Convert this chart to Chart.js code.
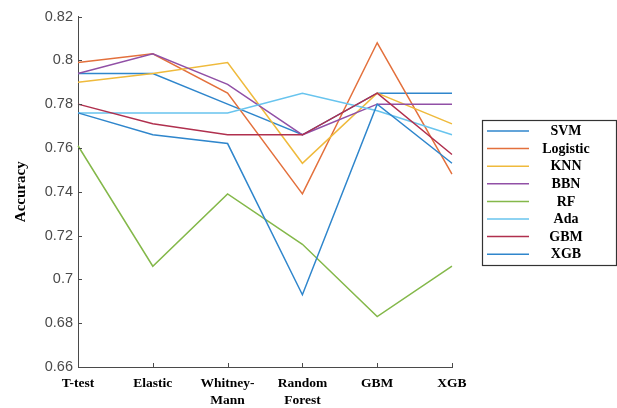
<!DOCTYPE html>
<html>
<head>
<meta charset="utf-8">
<script src="https://cdn.jsdelivr.net/npm/chart.js@4.4.1/dist/chart.umd.min.js"></script>
<style>
  html, body { margin: 0; padding: 0; background: #ffffff; }
  #wrap { width: 617px; height: 408px; position: relative; }
</style>
</head>
<body>
<div id="wrap"><canvas id="c" width="617" height="408"></canvas></div>
<script>
// ---- data ----
const categories = ['T-test', 'Elastic', ['Whitney-', 'Mann'], ['Random', 'Forest'], 'GBM', 'XGB'];
const seriesNames = ['SVM', 'Logistic', 'KNN', 'BBN', 'RF', 'Ada', 'GBM', 'XGB'];
const svm      = [0.794, 0.794, 0.780, 0.766, 0.785, 0.785];
const logistic = [0.799, 0.803, 0.785, 0.739, 0.808, 0.748];
const knn      = [0.790, 0.794, 0.799, 0.753, 0.785, 0.771];
const bbn      = [0.794, 0.803, 0.789, 0.766, 0.780, 0.780];
const rf       = [0.761, 0.706, 0.739, 0.716, 0.683, 0.706];
const ada      = [0.776, 0.776, 0.776, 0.785, 0.777, 0.766];
const gbm      = [0.780, 0.771, 0.766, 0.766, 0.785, 0.757];
const xgb      = [0.776, 0.766, 0.762, 0.693, 0.780, 0.753];
const yTicks   = [0.66, 0.68, 0.70, 0.72, 0.74, 0.76, 0.78, 0.80, 0.82];
const yTitle   = 'Accuracy';

const seriesValues = [svm, logistic, knn, bbn, rf, ada, gbm, xgb];
const colors = ['#2f86cc', '#e3703c', '#efba3c', '#9150a6', '#84b84a', '#68c4ee', '#b0304e', '#2f86cc'];
const AXIS = '#4a4a4a';

const datasets = seriesNames.map((name, i) => ({
  label: name,
  data: seriesValues[i],
  borderColor: colors[i],
  backgroundColor: colors[i],
  borderWidth: 1.5,
  pointRadius: 0,
  pointHoverRadius: 0,
  tension: 0,
  fill: false,
  order: seriesNames.length - i
}));

const inwardTicks = {
  id: 'inwardTicks',
  afterDatasetsDraw(chart) {
    const ctx = chart.ctx;
    const x = chart.scales.x, y = chart.scales.y;
    const area = chart.chartArea;
    ctx.save();
    ctx.strokeStyle = AXIS;
    ctx.lineWidth = 1;
    y.ticks.forEach((t, i) => {
      const py = Math.round(y.getPixelForTick(i)) + 0.5;
      ctx.beginPath();
      ctx.moveTo(area.left, py);
      ctx.lineTo(area.left + 4, py);
      ctx.stroke();
    });
    x.ticks.forEach((t, i) => {
      const px = Math.round(x.getPixelForTick(i)) + 0.5;
      ctx.beginPath();
      ctx.moveTo(px, area.bottom);
      ctx.lineTo(px, area.bottom - 4);
      ctx.stroke();
    });
    ctx.restore();
  }
};

const boxLegend = {
  id: 'boxLegend',
  afterDraw(chart) {
    const ctx = chart.ctx;
    const bx = 482.5, by = 120.5, bw = 134, bh = 145;
    ctx.save();
    ctx.fillStyle = '#ffffff';
    ctx.fillRect(bx, by, bw, bh);
    ctx.strokeStyle = '#333333';
    ctx.lineWidth = 1.2;
    ctx.strokeRect(bx, by, bw, bh);
    ctx.font = 'bold 14px "Liberation Serif", "Times New Roman", serif';
    ctx.textAlign = 'center';
    ctx.textBaseline = 'middle';
    chart.data.datasets.forEach((ds, i) => {
      const cy = 131 + i * 17.6;
      ctx.strokeStyle = ds.borderColor;
      ctx.lineWidth = 1.5;
      ctx.beginPath();
      ctx.moveTo(487, cy);
      ctx.lineTo(529, cy);
      ctx.stroke();
      ctx.fillStyle = '#000000';
      ctx.fillText(ds.label, 566, cy + 0.5);
    });
    ctx.restore();
  }
};

new Chart(document.getElementById('c'), {
  type: 'line',
  data: { labels: categories, datasets },
  options: {
    responsive: false,
    animation: false,
    events: [],
    layout: { padding: { left: 0, top: 16.5, right: 165, bottom: 0 } },
    plugins: { legend: { display: false }, tooltip: { enabled: false } },
    scales: {
      x: {
        type: 'category',
        offset: false,
        grid: { display: false, drawTicks: false },
        border: { display: true, color: AXIS, width: 1 },
        ticks: {
          color: '#000000',
          padding: 8,
          maxRotation: 0,
          autoSkip: false,
          font: { family: '"Liberation Serif", "Times New Roman", serif', size: 13.5, weight: 'bold', lineHeight: 1.25 }
        },
        afterFit(scale) { scale.height = 41; }
      },
      y: {
        min: 0.66,
        max: 0.82,
        afterBuildTicks(scale) { scale.ticks = yTicks.map(v => ({ value: v })); },
        grid: { display: false, drawTicks: false },
        border: { display: true, color: AXIS, width: 1 },
        ticks: {
          color: '#4a4a4a',
          padding: 5,
          font: { family: '"Liberation Sans", Arial, sans-serif', size: 14.5 },
          callback: v => String(Number(v.toFixed(2)))
        },
        title: {
          display: true,
          text: yTitle,
          color: '#000000',
          padding: { top: 12, bottom: 0 },
          font: { family: '"Liberation Serif", "Times New Roman", serif', size: 15, weight: 'bold' }
        },
        afterFit(scale) { scale.width = 78; }
      }
    }
  },
  plugins: [inwardTicks, boxLegend]
});
</script>
</body>
</html>
